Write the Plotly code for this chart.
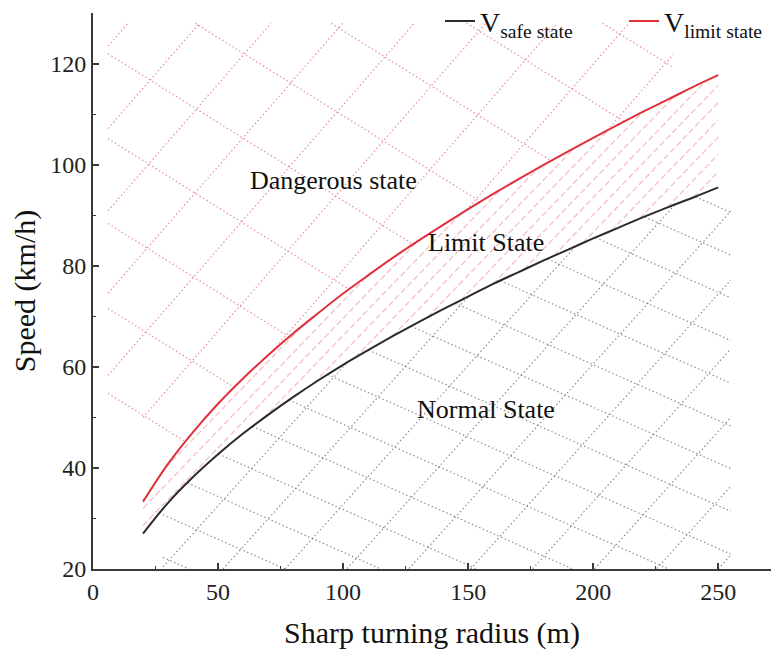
import numpy as np
import plotly.graph_objects as go

# ---- data ----
radius = [20, 30, 40, 50, 60, 70, 80, 90, 100, 110, 120, 130, 140, 150,
          160, 170, 180, 190, 200, 210, 220, 230, 240, 250]
v_safe = [27.0, 33.1, 38.2, 42.7, 46.8, 50.5, 54.0, 57.3, 60.4, 63.3, 66.1, 68.8,
          71.4, 73.9, 76.4, 78.7, 81.0, 83.2, 85.4, 87.5, 89.6, 91.6, 93.5, 95.5]
v_limit = [33.3, 40.8, 47.1, 52.7, 57.7, 62.3, 66.6, 70.6, 74.5, 78.1, 81.6, 84.9,
           88.1, 91.2, 94.2, 97.1, 99.9, 102.6, 105.3, 107.9, 110.5, 112.9, 115.4, 117.7]
series_names = ["V<sub>safe state</sub>", "V<sub>limit state</sub>"]
x_ticks = [0, 50, 100, 150, 200, 250]
y_ticks = [20, 40, 60, 80, 100, 120]
region_labels = ["Dangerous state", "Limit State", "Normal State"]
label_x = [96, 157, 157]
label_y = [96.8, 84.6, 51.5]

# ---- styles ----
FONT = "Liberation Serif, Times New Roman, serif"
AXIS_COLOR = "#3a3a3a"
X_RANGE = [0, 271.1]
Y_RANGE = [20, 130]
M_L, M_R, M_T, M_B = 93, 0, 13, 81
W, H = 771, 650
PX_X = (W - M_L - M_R) / (X_RANGE[1] - X_RANGE[0])
PX_Y = (H - M_T - M_B) / (Y_RANGE[1] - Y_RANGE[0])

# hatch decoration settings (angle in screen degrees, spacing in px)
DANGER_HATCH = dict(x_lo=6, x_hi=232, top=128, floor_left=50,
                    families=[(49, 54), (-32, 72)])
LIMIT_HATCH = dict(families=[(46, 12)])
NORMAL_HATCH = dict(x_lo=28, x_hi=255, families=[(48, 46), (-24, 39)])


def hatch_lines(families, x_lo, x_hi, lower_fn, upper_fn):
    xs = np.arange(x_lo, x_hi + 1e-9, 0.2)
    lo = lower_fn(xs)
    hi = upper_fn(xs)
    out_x, out_y = [], []
    for ang, spacing in families:
        a = np.radians(ang)
        m = np.tan(a) * PX_X / PX_Y
        dc = spacing / np.cos(a) / PX_Y
        cmin = (lo - m * xs).min()
        cmax = (hi - m * xs).max()
        c = np.floor(cmin / dc) * dc + dc * 0.37
        while c <= cmax:
            ys = m * xs + c
            inside = (ys >= lo) & (ys <= hi)
            if inside.any():
                idx = np.flatnonzero(inside)
                breaks = np.flatnonzero(np.diff(idx) > 1)
                starts = np.concatenate([[idx[0]], idx[breaks + 1]])
                ends = np.concatenate([idx[breaks], [idx[-1]]])
                for s, e in zip(starts, ends):
                    if e > s:
                        out_x += [float(xs[s]), float(xs[e]), None]
                        out_y += [float(ys[s]), float(ys[e]), None]
            c += dc
    return out_x, out_y


fig = go.Figure()

# Dangerous region hatch (red dotted cross hatch)
hx, hy = hatch_lines(
    DANGER_HATCH["families"], DANGER_HATCH["x_lo"], DANGER_HATCH["x_hi"],
    lambda x: np.interp(x, radius, v_limit, left=DANGER_HATCH["floor_left"]),
    lambda x: np.full_like(x, DANGER_HATCH["top"], dtype=float))
fig.add_trace(go.Scatter(x=hx, y=hy, mode="lines", showlegend=False, hoverinfo="skip",
                         line=dict(color="rgba(222,95,110,0.7)", width=1.2, dash="1.5px,2.5px")))

# Limit region hatch (red dashed diagonals)
hx, hy = hatch_lines(
    LIMIT_HATCH["families"], radius[0], radius[-1],
    lambda x: np.interp(x, radius, v_safe),
    lambda x: np.interp(x, radius, v_limit))
fig.add_trace(go.Scatter(x=hx, y=hy, mode="lines", showlegend=False, hoverinfo="skip",
                         line=dict(color="rgba(232,120,135,0.55)", width=1.1, dash="6px,3px")))

# Normal region hatch (grey dotted cross hatch)
hx, hy = hatch_lines(
    NORMAL_HATCH["families"], NORMAL_HATCH["x_lo"], NORMAL_HATCH["x_hi"],
    lambda x: np.full_like(x, Y_RANGE[0], dtype=float),
    lambda x: np.interp(x, radius, v_safe))
fig.add_trace(go.Scatter(x=hx, y=hy, mode="lines", showlegend=False, hoverinfo="skip",
                         line=dict(color="rgba(70,70,70,0.6)", width=1.2, dash="1.5px,2.5px")))

# Curves
fig.add_trace(go.Scatter(x=radius, y=v_safe, mode="lines", name=series_names[0],
                         line=dict(color="#2b2b2b", width=2), line_shape="spline"))
fig.add_trace(go.Scatter(x=radius, y=v_limit, mode="lines", name=series_names[1],
                         line=dict(color="#e0303c", width=2), line_shape="spline"))

for txt, xx, yy in zip(region_labels, label_x, label_y):
    fig.add_annotation(x=xx, y=yy, text=txt, showarrow=False,
                       font=dict(family=FONT, size=26, color="#111111"))

axis_common = dict(
    showline=True, linecolor=AXIS_COLOR, linewidth=2,
    ticks="inside", ticklen=6, tickwidth=1.6, tickcolor=AXIS_COLOR,
    showgrid=False, zeroline=False,
    tickfont=dict(family=FONT, size=24, color="#222222"),
)

fig.update_xaxes(range=X_RANGE, tickvals=x_ticks, **axis_common,
                 minor=dict(ticks="inside", ticklen=3, tickwidth=1.4,
                            tickcolor=AXIS_COLOR, dtick=25, tick0=0),
                 title=dict(text="Sharp turning radius (m)", standoff=18,
                            font=dict(family=FONT, size=30, color="#111111")))
fig.update_yaxes(range=Y_RANGE, tickvals=y_ticks, **axis_common,
                 minor=dict(ticks="inside", ticklen=3, tickwidth=1.4,
                            tickcolor=AXIS_COLOR, dtick=10, tick0=0),
                 title=dict(text="Speed (km/h)", standoff=6,
                            font=dict(family=FONT, size=30, color="#111111")))

fig.update_layout(
    width=W, height=H,
    margin=dict(l=M_L, r=M_R, t=M_T, b=M_B, autoexpand=False),
    plot_bgcolor="white", paper_bgcolor="white",
    font=dict(family=FONT),
    legend=dict(orientation="h", x=(440 - M_L) / (W - M_L - M_R), xanchor="left",
                y=1.03, yanchor="top",
                traceorder="normal", entrywidth=139, entrywidthmode="pixels",
                bgcolor="rgba(0,0,0,0)", font=dict(family=FONT, size=28, color="#111111"),
                itemwidth=30, tracegroupgap=0),
)

fig.write_html("out.html")
